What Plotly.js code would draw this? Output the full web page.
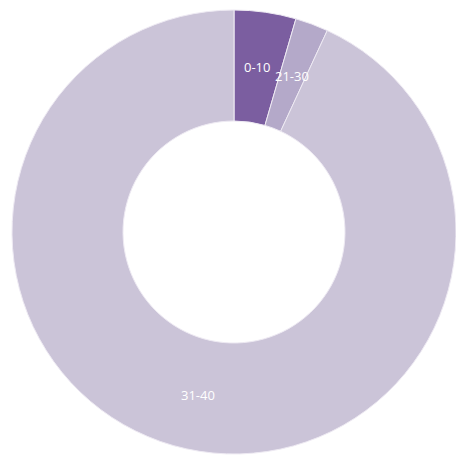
<!DOCTYPE html>
<html>
<head>
<meta charset="utf-8">
<script src="https://cdn.plot.ly/plotly-3.0.1.min.js"></script>
<style>html,body{margin:0;padding:0;background:#fff;}#chart{width:456px;height:455px;}</style>
</head>
<body>
<div id="chart"></div>
<script>
const labels = ["0-10", "21-30", "31-40"];
const values = [4.5, 2.4, 93.1];
const colors = ["#7b5ea0", "#b4a9c9", "#cbc4d8"];

const HOLE = 0.5;
// Label positions: middle of each slice, centre of the ring (clockwise from 12 o'clock)
const total = values.reduce((a, b) => a + b, 0);
let cum = 0;
const annotations = labels.map((lab, i) => {
  const mid = (cum + values[i] / 2) / total * 2 * Math.PI;
  cum += values[i];
  const r = 0.5 * (1 + HOLE) / 2;
  return {
    xref: "paper", yref: "paper",
    x: 0.5 + r * Math.sin(mid), y: 0.5 + r * Math.cos(mid),
    xanchor: "center", yanchor: "middle",
    text: lab, showarrow: false,
    font: {family: "Open Sans, Liberation Sans, sans-serif", size: 13, color: "#ffffff"}
  };
});

Plotly.newPlot("chart", [{
  type: "pie",
  labels: labels,
  values: values,
  hole: HOLE,
  sort: false,
  direction: "clockwise",
  rotation: 0,
  textinfo: "none",
  marker: {colors: colors, line: {color: "#eeeaf3", width: 1}},
  showlegend: false,
  hoverinfo: "none"
}], {
  width: 456, height: 455,
  margin: {l: 12, r: 0, t: 10, b: 1},
  paper_bgcolor: "#ffffff",
  annotations: annotations
}, {displayModeBar: false, staticPlot: true});
</script>
</body>
</html>
